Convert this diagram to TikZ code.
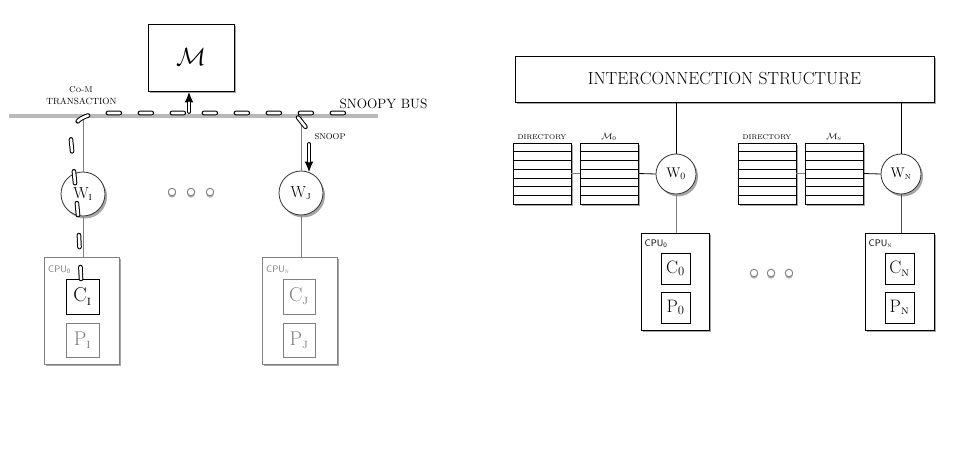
\documentclass[tikz,border=0pt]{standalone}
\usetikzlibrary{shadows,arrows.meta,calc}
\begin{document}
\begin{tikzpicture}[x=1pt,y=-1pt,
  shad/.style={drop shadow={shadow xshift=2pt,shadow yshift=-2.5pt,opacity=0.35,fill=black}},
  box/.style={draw,line width=0.9pt,fill=white,shad,inner sep=0pt},
  gbox/.style={draw=gray,line width=0.9pt,fill=white,shad,inner sep=0pt},
  ibox/.style={draw,line width=0.9pt,fill=white,inner sep=0pt},
  gibox/.style={draw=gray,line width=0.9pt,fill=white,inner sep=0pt,text=gray},
  circ/.style={circle,draw=black!80,line width=0.8pt,fill=white,shad,inner sep=0pt},
  tab/.style={draw,line width=0.9pt,fill=white,shad,inner sep=0pt,minimum width=58pt,minimum height=61pt},
  dotc/.style={circle,draw=gray,line width=0.9pt,fill=white,inner sep=0pt,minimum size=7.5pt,
     drop shadow={shadow xshift=0pt,shadow yshift=-2pt,opacity=0.3,fill=black}},
  glink/.style={draw=gray,line width=0.8pt},
  blink/.style={draw=black,line width=0.8pt},
  lbl/.style={inner sep=0pt},
  dashw/.style={line width=4.6pt,line cap=round,dash pattern=on 12pt off 20pt,black,
     postaction={draw=white,line width=2.6pt,line cap=round,dash pattern=on 12pt off 20pt}},
  darrow/.style={draw=black,line width=3.8pt,line cap=round,-{Latex[length=11pt,width=9pt]},
     postaction={draw=white,line width=2pt,line cap=round,shorten >=11pt,-}},
  big/.style={font=\fontsize{20}{20}\selectfont},
  wfont/.style={font=\fontsize{16}{16}\selectfont},
  cpul/.style={anchor=west,inner sep=0pt,font=\sffamily\fontsize{9.5}{9.5}\selectfont}
]
\useasboundingbox (0,0) rectangle (970,454);

% ---------- left: snoopy bus ----------
\coordinate (busW) at (9,116);
\coordinate (busE) at (378,116);
\draw[gray!55,line width=4pt] (busW) -- (busE);

\node[box,minimum width=86pt,minimum height=67pt] (M) at (191,57.5) {\fontsize{26}{26}\selectfont$\mathcal{M}$};

\node[lbl,font=\fontsize{13.5}{13.5}\selectfont] (sb) at (383.5,104) {SNOOPY BUS};
\node[lbl,font=\fontsize{8.5}{8.5}\selectfont] (com) at (81,90) {\textsc{Co-M}};
\node[lbl,font=\fontsize{9}{9}\selectfont] (tr) at (81.5,101) {TRANSACTION};
\node[lbl,font=\fontsize{8.5}{8.5}\selectfont] (sn) at (330,136.5) {SNOOP};

\node[circ,minimum size=44pt] (W1) at (83,194) {};
\node[circ,minimum size=44pt] (WJ) at (301,193) {};
\node[wfont,lbl] at (W1) {W\textsubscript{\textsc{i}}};
\node[wfont,lbl] at (WJ) {W\textsubscript{\textsc{j}}};

\path[glink] (W1.north) -- (W1.north |- busW);
\path[glink] (WJ.north) -- (WJ.north |- busW);

\node[gbox,minimum width=75pt,minimum height=107pt] (CPUa) at (81.5,310.5) {};
\node[gbox,minimum width=75pt,minimum height=107pt] (CPUb) at (299.5,310.5) {};
\path[glink] (W1.south) -- (W1.south |- CPUa.north);
\path[glink] (WJ.south) -- (WJ.south |- CPUb.north);
\node[cpul,text=gray] (la) at (48,269.5) {CPU\textsubscript{0}};
\node[cpul,text=gray] (lb) at (266,269.5) {CPU\textsubscript{\textsc{n}}};

\node[ibox,minimum width=33pt,minimum height=35pt,big] (C1) at (82.5,296.5) {C\textsubscript{\textsc{i}}};
\node[gibox,minimum width=33pt,minimum height=34pt,big] (P1) at (82.5,340) {P\textsubscript{\textsc{i}}};
\node[gibox,minimum width=32pt,minimum height=35pt,big] (CJ) at (299,296.5) {C\textsubscript{\textsc{j}}};
\node[gibox,minimum width=32pt,minimum height=34pt,big] (PJ) at (299,340) {P\textsubscript{\textsc{j}}};

\node[dotc] (d1) at (172,192) {};
\node[dotc] (d2) at (191,192) {};
\node[dotc] (d3) at (210,192) {};

% transaction path
\coordinate (t0) at (81,279);
\coordinate (t1) at (71,140);
\coordinate (t2) at (108,113);
\coordinate (t3) at (356,113);
\draw[dashw] (t0) -- (78,215) -- (t1) .. controls (70,122) and (82,113) .. (t2) -- (t3);
\draw[dashw] (298,117.5) -- (306,127.5);
\coordinate (mIn) at (189,112);
\draw[darrow] (mIn) -- (mIn |- M.south);
\coordinate (snS) at (309,144);
\draw[darrow] (snS) -- ($(snS |- WJ.north)+(0,2)$);

% ---------- right: directory ----------
\node[box,minimum width=419pt,minimum height=46pt,font=\fontsize{17.5}{17.5}\selectfont] (IC) at (724.5,79) {INTERCONNECTION STRUCTURE};

\node[circ,minimum size=40pt] (W0) at (676,174) {};
\node[circ,minimum size=40pt] (WN) at (901,174) {};
\node[lbl,font=\fontsize{14}{14}\selectfont] at (W0) {W\textsubscript{0}};
\node[lbl,font=\fontsize{14}{14}\selectfont] at (WN) {W\textsubscript{\textsc{n}}};
\path[blink] (W0.north) -- (W0.north |- IC.south);
\path[blink] (WN.north) -- (WN.north |- IC.south);

\node[tab] (D0) at (542,173.5) {};
\node[tab] (M0) at (609,173.5) {};
\node[tab] (DN) at (767,173.5) {};
\node[tab] (MN) at (834,173.5) {};
\foreach \t in {D0,M0,DN,MN}{
  \foreach \i in {1,...,6}{
    \draw[line width=0.8pt] ($(\t.north west)!\i/7!(\t.south west)$) -- ($(\t.north east)!\i/7!(\t.south east)$);
  }
}
\node[lbl,font=\fontsize{7}{7}\selectfont] (ld0) at (542,137) {DIRECTORY};
\node[lbl,font=\fontsize{9}{9}\selectfont] (lm0) at (609,137) {$\mathcal{M}$\textsubscript{0}};
\node[lbl,font=\fontsize{7}{7}\selectfont] (ldn) at (767,137) {DIRECTORY};
\node[lbl,font=\fontsize{9}{9}\selectfont] (lmn) at (834,137) {$\mathcal{M}$\textsubscript{\textsc{n}}};

\path[glink] (D0.east) -- (M0.west);
\path[blink] (M0.east) -- (W0.west);
\path[glink] (DN.east) -- (MN.west);
\path[blink] (MN.east) -- (WN.west);

\node[box,minimum width=68pt,minimum height=97pt] (CPU0) at (675,281.5) {};
\node[box,minimum width=69pt,minimum height=97pt] (CPUN) at (899.5,281.5) {};
\path[glink] (W0.south) -- (W0.south |- CPU0.north);
\path[draw=black!70,line width=0.8pt] (WN.south) -- (WN.south |- CPUN.north);
\node[cpul] (l0) at (644.5,244) {CPU\textsubscript{0}};
\node[cpul] (ln) at (868.5,244) {CPU\textsubscript{\textsc{n}}};

\node[ibox,minimum width=29pt,minimum height=31pt,font=\fontsize{18}{18}\selectfont] (C0) at (675.5,268.5) {C\textsubscript{0}};
\node[ibox,minimum width=29pt,minimum height=31pt,font=\fontsize{18}{18}\selectfont] (P0) at (675.5,307.5) {P\textsubscript{0}};
\node[ibox,minimum width=29pt,minimum height=31pt,font=\fontsize{18}{18}\selectfont] (CN) at (899.5,268.5) {C\textsubscript{\textsc{n}}};
\node[ibox,minimum width=29pt,minimum height=31pt,font=\fontsize{18}{18}\selectfont] (PN) at (899.5,307.5) {P\textsubscript{\textsc{n}}};

\node[dotc] (e1) at (754,273) {};
\node[dotc] (e2) at (771,273) {};
\node[dotc] (e3) at (789,273) {};
\end{tikzpicture}
\end{document}
